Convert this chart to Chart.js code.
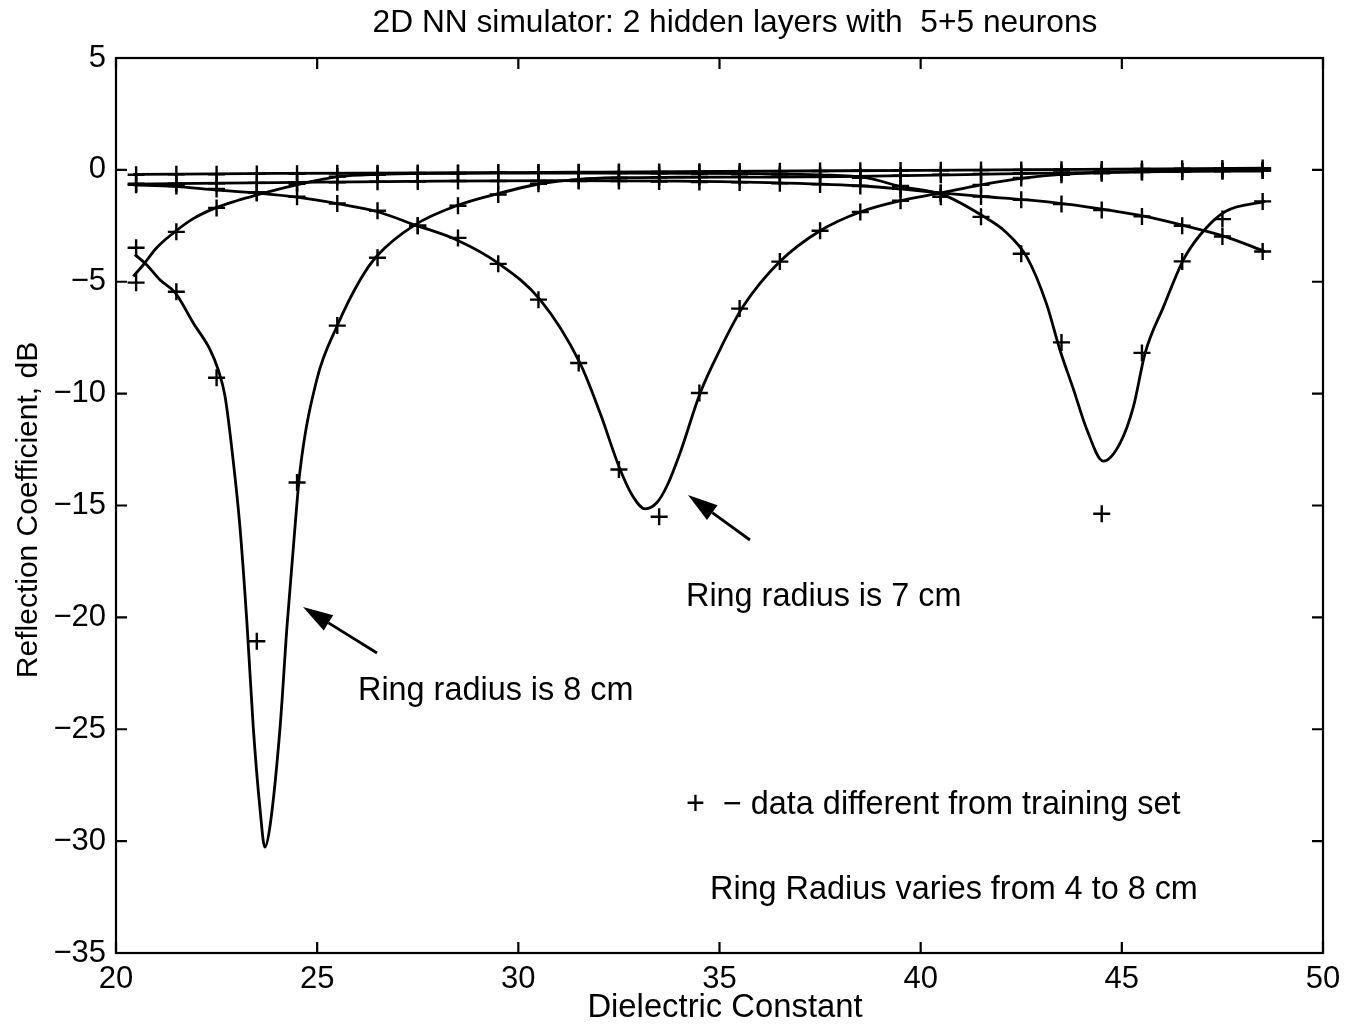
<!DOCTYPE html>
<html>
<head>
<meta charset="utf-8">
<title>2D NN simulator</title>
<script src="https://cdn.jsdelivr.net/npm/chart.js@4.4.1/dist/chart.umd.min.js"></script>
<style>
  html, body { margin: 0; padding: 0; background: #fff; }
  #wrap { width: 1363px; height: 1029px; }
</style>
</head>
<body>
<div id="wrap"><canvas id="chart" width="1363" height="1029"></canvas></div>
<script>
// model curves (solid lines)
const ring8X = [20.47, 20.76, 21.09, 21.47, 21.92, 22.34, 22.54, 22.71, 22.91, 23.08, 23.26, 23.41, 23.58, 23.70, 23.83, 24.08, 24.25, 24.45, 24.57, 24.99, 25.49, 26.07, 26.48, 27.43, 28.47, 29.5, 30.54, 31.5, 32.5, 34, 36, 38, 40, 42, 44, 46, 48.5];
const ring8Y = [-3.79, -4.24, -4.91, -5.49, -6.84, -8.04, -8.93, -10.12, -12.95, -15.94, -20.4, -24.87, -28.57, -30.27, -29.3, -24.87, -20.4, -15.94, -13.5, -9.38, -7.0, -4.91, -3.86, -2.46, -1.6, -1.06, -0.62, -0.42, -0.35, -0.33, -0.32, -0.3, -0.25, -0.18, -0.12, -0.08, -0.05];

const ring7X = [20.43, 21.42, 22.46, 23.5, 24.49, 25.53, 26.48, 27.43, 28.47, 29.5, 30.54, 31.53, 32.03, 32.53, 32.85, 33.15, 33.44, 33.69, 34.02, 34.52, 35.01, 35.59, 36.5, 37.5, 38.5, 39.5, 40.5, 41.5, 42.6, 43.5, 44.5, 46, 48.5];
const ring7Y = [-0.67, -0.74, -0.89, -1.04, -1.22, -1.52, -1.86, -2.46, -3.13, -4.17, -5.8, -8.63, -10.86, -13.39, -14.6, -15.15, -14.88, -14.14, -12.65, -9.97, -8.04, -6.1, -4.1, -2.72, -1.88, -1.38, -1.03, -0.67, -0.36, -0.2, -0.12, -0.05, 0.0];

const ring6X = [20.43, 24, 28, 32, 36, 37.5, 38.67, 39.49, 40.56, 41.56, 42.1, 42.64, 43.13, 43.46, 43.8, 44.13, 44.54, 44.96, 45.29, 45.58, 46.04, 46.53, 46.95, 47.57, 48.56];
const ring6Y = [-0.2, -0.16, -0.14, -0.14, -0.17, -0.22, -0.36, -0.74, -1.12, -2.08, -2.75, -3.9, -6.0, -8.04, -9.82, -11.6, -13.02, -12.2, -10.57, -8.18, -6.1, -4.02, -2.9, -1.86, -1.41];

const ring5X = [20.43, 22, 25, 28, 31, 34, 36.5, 38.6, 39.49, 40.56, 41.56, 42.64, 43.63, 44.63, 45.58, 46.57, 47.57, 48.56];
const ring5Y = [-0.64, -0.6, -0.55, -0.5, -0.48, -0.5, -0.58, -0.72, -0.85, -1.04, -1.19, -1.34, -1.53, -1.79, -2.08, -2.5, -2.98, -3.65];

const ring4X = [20.43, 20.68, 21.0, 21.42, 21.9, 22.46, 23.0, 23.5, 24.0, 24.49, 25.0, 25.53, 26.5, 28, 30, 32, 34, 36, 38, 40, 42, 44, 46, 48.5];
const ring4Y = [-4.76, -4.24, -3.5, -2.83, -2.2, -1.71, -1.38, -1.12, -0.88, -0.67, -0.47, -0.3, -0.2, -0.15, -0.12, -0.1, -0.08, -0.06, -0.04, -0.02, 0.0, 0.02, 0.04, 0.08];

// test data (+ markers), one value per dielectric constant
const testX = [20.5, 21.5, 22.5, 23.5, 24.5, 25.5, 26.5, 27.5, 28.5, 29.5, 30.5, 31.5, 32.5, 33.5, 34.5, 35.5, 36.5, 37.5, 38.5, 39.5, 40.5, 41.5, 42.5, 43.5, 44.5, 45.5, 46.5, 47.5, 48.5];
const test8 = [-3.48, -5.45, -9.29, -21.07, -13.97, -6.96, -3.93, -2.5, -1.6, -1.1, -0.62, -0.45, -0.36, -0.33, -0.32, -0.3, -0.3, -0.3, -0.28, -0.26, -0.22, -0.18, -0.15, -0.12, -0.1, -0.08, -0.06, -0.05, -0.03];
const test7 = [-0.67, -0.72, -0.85, -1.0, -1.2, -1.5, -1.83, -2.5, -3.04, -4.2, -5.8, -8.63, -13.39, -15.5, -9.97, -6.2, -4.1, -2.72, -1.88, -1.38, -1.03, -0.67, -0.36, -0.22, -0.15, -0.1, -0.08, -0.05, -0.03];
const test6 = [-0.22, -0.2, -0.2, -0.18, -0.17, -0.15, -0.15, -0.14, -0.14, -0.13, -0.13, -0.13, -0.14, -0.15, -0.16, -0.18, -0.2, -0.25, -0.35, -0.72, -1.2, -2.1, -3.75, -7.71, -15.37, -8.18, -4.09, -2.2, -1.41];
const test5 = [-0.62, -0.62, -0.6, -0.58, -0.56, -0.55, -0.53, -0.52, -0.5, -0.5, -0.5, -0.5, -0.5, -0.52, -0.54, -0.56, -0.6, -0.65, -0.72, -0.85, -1.04, -1.19, -1.34, -1.53, -1.79, -2.08, -2.5, -2.98, -3.65];
const test4 = [-5.04, -2.77, -1.7, -1.03, -0.62, -0.3, -0.22, -0.18, -0.15, -0.13, -0.12, -0.11, -0.1, -0.09, -0.08, -0.07, -0.06, -0.05, -0.04, -0.03, -0.02, -0.01, 0.0, 0.01, 0.02, 0.04, 0.05, 0.06, 0.08];

const xTicks = [20, 25, 30, 35, 40, 45, 50];
const yTicks = [5, 0, -5, -10, -15, -20, -25, -30, -35];

const FONT = '"Liberation Sans", Arial, Helvetica, sans-serif';
const toPoints = (xs, ys) => xs.map((x, i) => ({ x, y: ys[i] }));

function curve(xs, ys) {
  return {
    data: toPoints(xs, ys),
    showLine: true,
    borderColor: "#000",
    borderWidth: 2.8,
    pointRadius: 0,
    cubicInterpolationMode: "monotone"
  };
}

function markers(ys) {
  return {
    data: toPoints(testX, ys),
    showLine: false,
    pointStyle: "cross",
    pointRadius: 8.5,
    pointBorderWidth: 2.4,
    borderColor: "#000",
    backgroundColor: "#000"
  };
}

function arrow(ctx, x1, y1, x2, y2) {
  const ang = Math.atan2(y2 - y1, x2 - x1);
  const len = 30, half = 9;
  const bx = x2 - len * Math.cos(ang), by = y2 - len * Math.sin(ang);
  ctx.beginPath();
  ctx.moveTo(x1, y1);
  ctx.lineTo(bx, by);
  ctx.lineWidth = 2.8;
  ctx.stroke();
  ctx.beginPath();
  ctx.moveTo(x2, y2);
  ctx.lineTo(bx + half * Math.sin(ang), by - half * Math.cos(ang));
  ctx.lineTo(bx - half * Math.sin(ang), by + half * Math.cos(ang));
  ctx.closePath();
  ctx.fill();
}

const frame = {
  id: "frame",
  afterDraw(chart) {
    const { ctx, chartArea: a, scales } = chart;
    ctx.save();
    ctx.strokeStyle = "#000";
    ctx.fillStyle = "#000";
    ctx.lineWidth = 2.2;
    ctx.strokeRect(a.left, a.top, a.right - a.left, a.bottom - a.top);
    ctx.beginPath();
    xTicks.forEach((v) => {
      const px = scales.x.getPixelForValue(v);
      ctx.moveTo(px, a.bottom); ctx.lineTo(px, a.bottom - 11);
      ctx.moveTo(px, a.top); ctx.lineTo(px, a.top + 11);
    });
    yTicks.forEach((v) => {
      const py = scales.y.getPixelForValue(v);
      ctx.moveTo(a.left, py); ctx.lineTo(a.left + 11, py);
      ctx.moveTo(a.right, py); ctx.lineTo(a.right - 11, py);
    });
    ctx.stroke();

    ctx.textBaseline = "middle";
    ctx.textAlign = "center";
    ctx.font = `31.7px ${FONT}`;
    ctx.fillText("2D NN simulator: 2 hidden layers with  5+5 neurons", 735, 23);
    ctx.font = `32.8px ${FONT}`;
    ctx.fillText("Dielectric Constant", 725, 1008);
    ctx.save();
    ctx.translate(29, 510);
    ctx.rotate(-Math.PI / 2);
    ctx.font = `30px ${FONT}`;
    ctx.fillText("Reflection Coefficient, dB", 0, 0);
    ctx.restore();

    ctx.textAlign = "left";
    ctx.font = `32.4px ${FONT}`;
    ctx.fillText("Ring radius is 8 cm", 358, 691);
    ctx.fillText("Ring radius is 7 cm", 686, 597);
    ctx.fillText("+  \u2212 data different from training set", 686, 805);
    ctx.fillText("Ring Radius varies from 4 to 8 cm", 710, 890);

    arrow(ctx, 377, 653, 303, 607);
    arrow(ctx, 750, 540, 688, 495);
    ctx.restore();
  }
};

new Chart(document.querySelector("#chart"), {
  type: "scatter",
  data: {
    datasets: [
      curve(ring8X, ring8Y),
      curve(ring7X, ring7Y),
      curve(ring6X, ring6Y),
      curve(ring5X, ring5Y),
      curve(ring4X, ring4Y),
      markers(test8),
      markers(test7),
      markers(test6),
      markers(test5),
      markers(test4)
    ]
  },
  options: {
    responsive: false,
    animation: false,
    devicePixelRatio: 1,
    layout: { padding: { left: 0, top: 58, right: 40, bottom: 0 } },
    plugins: { legend: { display: false }, tooltip: { enabled: false }, title: { display: false } },
    scales: {
      x: {
        type: "linear",
        min: 20,
        max: 50,
        grid: { display: false, drawTicks: false },
        border: { display: false },
        ticks: { stepSize: 5, padding: 8, color: "#000", font: { family: FONT, size: 31 } },
        afterFit: (scale) => { scale.height = 76; }
      },
      y: {
        min: -35,
        max: 5,
        grid: { display: false, drawTicks: false },
        border: { display: false },
        ticks: {
          stepSize: 5,
          padding: 10,
          color: "#000",
          font: { family: FONT, size: 31 },
          callback: (v) => String(v).replace("-", "\u2212")
        },
        afterFit: (scale) => { scale.width = 116; }
      }
    }
  },
  plugins: [frame]
});
</script>
</body>
</html>
